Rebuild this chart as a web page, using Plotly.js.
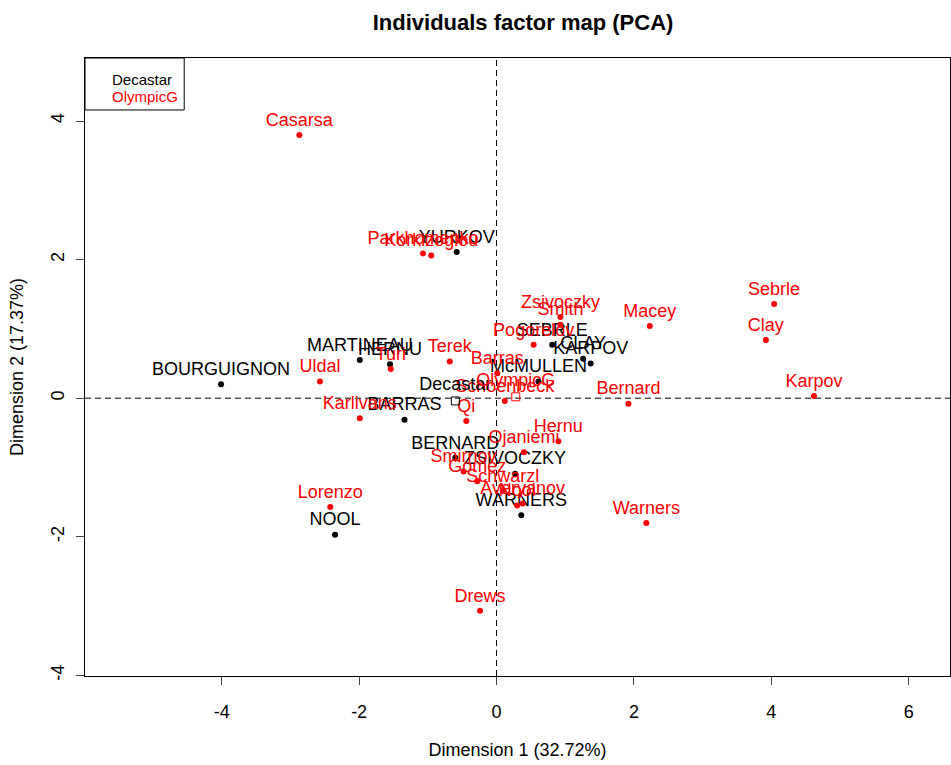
<!DOCTYPE html>
<html><head><meta charset="utf-8">
<script src="https://cdn.plot.ly/plotly-3.0.1.min.js"></script>
<style>body{margin:0;background:#fff}#chart{width:951px;height:765px}</style>
</head><body><div id="chart"></div>
<script>
const decaNames = ["SEBRLE","CLAY","KARPOV","BERNARD","YURKOV","WARNERS","ZSIVOCZKY","McMULLEN","MARTINEAU","HERNU","BARRAS","NOOL","BOURGUIGNON"];
const decaDim1 = [0.81,1.26,1.37,-0.60,-0.58,0.36,0.27,0.61,-1.99,-1.55,-1.34,-2.35,-4.01];
const decaDim2 = [0.77,0.57,0.50,-0.86,2.11,-1.69,-1.09,0.24,0.55,0.49,-0.31,-1.97,0.20];

const olyNames = ["Sebrle","Clay","Karpov","Macey","Warners","Zsivoczky","Hernu","Nool","Bernard","Schwarzl","Pogorelov","Schoenbeck","Barras","Smith","Averyanov","Ojaniemi","Smirnov","Qi","Drews","Parkhomenko","Terek","Gomez","Turi","Lorenzo","Karlivans","Korkizoglou","Uldal","Casarsa"];
const olyDim1 = [4.04,3.92,4.62,2.23,2.18,0.93,0.90,0.30,1.92,0.09,0.54,0.12,0.01,0.93,0.38,0.40,-0.48,-0.44,-0.24,-1.07,-0.68,-0.28,-1.54,-2.42,-1.99,-0.95,-2.57,-2.87];
const olyDim2 = [1.36,0.84,0.03,1.04,-1.80,1.17,-0.62,-1.55,-0.08,-1.34,0.77,-0.04,0.36,1.06,-1.52,-0.78,-1.06,-0.33,-3.07,2.09,0.53,-1.20,0.42,-1.57,-0.29,2.06,0.24,3.80];

const catNames = ["Decastar","OlympicG"];
const catDim1 = [-0.60,0.28];
const catDim2 = [-0.04,0.02];
const catColors = ["#000000","#FF0000"];

const xTicks = [-4,-2,0,2,4,6];
const yTicks = [-4,-2,0,2,4];

const FONT = "Liberation Sans, Arial, sans-serif";
const labelFont = {family: FONT, size: 18};

const traces = [
  {x: decaDim1, y: decaDim2, text: decaNames, mode: "markers+text", type: "scatter",
   textposition: "top center", marker: {color: "#000000", size: 6}, textfont: Object.assign({color: "#000000"}, labelFont), hoverinfo: "text", showlegend: false},
  {x: olyDim1, y: olyDim2, text: olyNames, mode: "markers+text", type: "scatter",
   textposition: "top center", marker: {color: "#FF0000", size: 6}, textfont: Object.assign({color: "#FF0000"}, labelFont), hoverinfo: "text", showlegend: false},
  {x: catDim1, y: catDim2, text: catNames, mode: "markers+text", type: "scatter",
   textposition: "top center", marker: {color: catColors, size: 8, symbol: "square-open", line: {width: 1, color: catColors}},
   textfont: {family: FONT, size: 18, color: catColors}, hoverinfo: "text", showlegend: false}
];

const annotations = catNames.map((n, i) => ({
  xref: "paper", yref: "paper", x: 0.029, y: 1 - (0.035 + i*0.027), xanchor: "left", yanchor: "middle",
  text: n, showarrow: false, font: {family: FONT, size: 15, color: catColors[i]}
}));

const layout = {
  width: 951, height: 765,
  margin: {l: 85, r: 1, t: 58, b: 89},
  paper_bgcolor: "#fff", plot_bgcolor: "#fff",
  font: {family: FONT, size: 18, color: "#000"},
  title: {text: "<b>Individuals factor map (PCA)</b>", font: {family: FONT, size: 22, color: "#000"},
          xref: "container", x: 0.55, xanchor: "center", yref: "container", y: 0.971, yanchor: "middle"},
  xaxis: {range: [-5.99, 6.60], tickvals: xTicks, ticktext: xTicks.map(String), ticks: "outside", ticklen: 8,
          showgrid: false, zeroline: false, showline: true, mirror: true, linecolor: "#000", linewidth: 1,
          tickfont: {family: FONT, size: 18}, ticklabelstandoff: 11,
          title: {text: "Dimension 1 (32.72%)", font: {family: FONT, size: 18}, standoff: 22}},
  yaxis: {range: [-4.01, 4.91], tickvals: yTicks, ticktext: yTicks.map(String), ticks: "outside", ticklen: 8,
          tickangle: -90, showgrid: false, zeroline: false, showline: true, mirror: true, linecolor: "#000", linewidth: 1,
          tickfont: {family: FONT, size: 18}, ticklabelstandoff: 5,
          title: {text: "Dimension 2 (17.37%)", font: {family: FONT, size: 18}, standoff: 19}},
  shapes: [
    {type: "line", xref: "x", yref: "paper", x0: 0, x1: 0, y0: 0, y1: 1, line: {color: "#000", width: 1, dash: "6px,4px"}, layer: "below"},
    {type: "line", xref: "paper", yref: "y", x0: 0, x1: 1, y0: 0, y1: 0, line: {color: "#000", width: 1, dash: "6px,4px"}, layer: "below"},
    {type: "rect", xref: "paper", yref: "paper", x0: 0, x1: 0.1147, y0: 1, y1: 0.9159, line: {color: "#000", width: 1}, fillcolor: "rgba(0,0,0,0)"}
  ],
  annotations: annotations,
  showlegend: false
};

Plotly.newPlot("chart", traces, layout, {staticPlot: true, displayModeBar: false});
</script>
</body></html>
